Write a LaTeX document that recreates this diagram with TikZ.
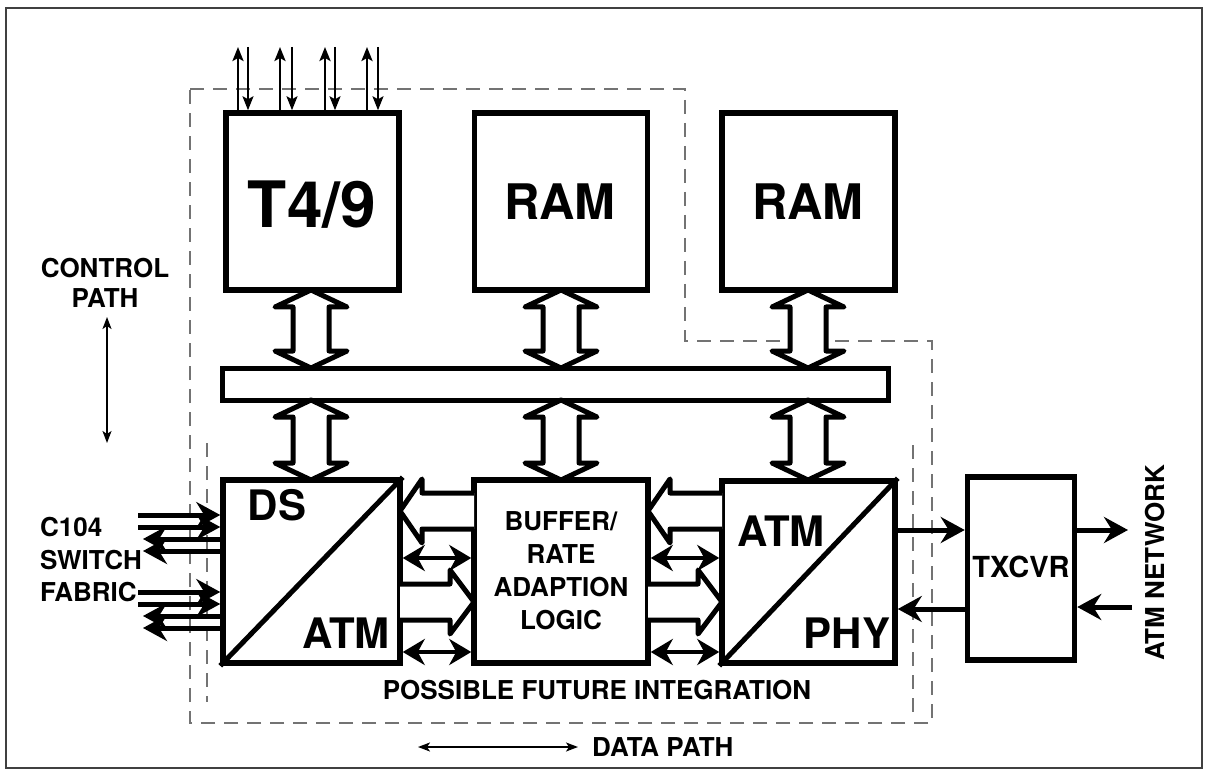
\documentclass[tikz,border=0pt]{standalone}
\usepackage{fontspec}
\setmainfont{TeX Gyre Heros}
\usetikzlibrary{arrows.meta,calc}
\newcommand\vhollow[3]{%
  \draw[hollow] (#1,#2) -- (#1+36,#2+17) -- (#1+18,#2+17) -- (#1+18,#3-17) -- (#1+36,#3-17)
    -- (#1,#3) -- (#1-36,#3-17) -- (#1-18,#3-17) -- (#1-18,#2+17) -- (#1-36,#2+17) -- cycle;}
% left-pointing: tip x, tail x, y
\newcommand\lhollow[3]{%
  \draw[hollow] (#2,#3-18) -- (#1+22,#3-18) -- (#1+22,#3-32) -- (#1,#3) -- (#1+22,#3+32) -- (#1+22,#3+18) -- (#2,#3+18);}
\newcommand\rhollow[3]{%
  \draw[hollow] (#2,#3-18) -- (#1-24,#3-18) -- (#1-24,#3-32) -- (#1,#3) -- (#1-24,#3+32) -- (#1-24,#3+18) -- (#2,#3+18);}
\begin{document}
\begin{tikzpicture}[x=1pt,y=-1pt,
  box/.style={draw, line width=5.5pt, inner sep=0pt},
  hollow/.style={draw, line width=5pt, line join=round, fill=white},
  dsh/.style={draw=black!55, line width=1.3pt, dash pattern=on 14pt off 9pt},
  fat/.style={line width=5pt, -{Stealth[length=24pt,width=26pt,inset=8pt]}},
  fatdbl/.style={line width=4pt, {Stealth[length=22pt,width=26pt,inset=7pt]}-{Stealth[length=22pt,width=26pt,inset=7pt]}},
  pinup/.style={line width=2.6pt, -{Stealth[length=14pt,width=11pt,inset=3pt]}},
  pindn/.style={line width=2pt, -{Stealth[length=14pt,width=11pt,inset=3pt]}},
  legend/.style={line width=1.8pt, {Stealth[length=12pt,width=9pt,inset=3pt]}-{Stealth[length=12pt,width=9pt,inset=3pt]}},
  lbl/.style={font=\bfseries\fontsize{26}{30}\selectfont, inner sep=0pt},
  big/.style={font=\bfseries\fontsize{42}{46}\selectfont, inner sep=0pt}]
\useasboundingbox (0,0) rectangle (1209,775);
\fill[white] (0,0) rectangle (1209,775);
\draw[line width=1.5pt, black!75] (6,8) rectangle (1202,768);

% dashed integration outlines
\draw[dsh] (190,89) -- (685,89) -- (685,341) -- (932,341) -- (932,723) -- (190,723) -- cycle;
\draw[dsh] (207,443) -- (207,702);
\draw[dsh] (913,445) -- (913,720);

% boxes
\node[box, minimum width=173pt, minimum height=177pt] (t49) at (312.5,201.5) {};
\node[box, minimum width=173pt, minimum height=177pt] (ram1) at (561,201.5) {};
\node[box, minimum width=173pt, minimum height=177pt] (ram2) at (808.5,201.5) {};
\node[draw, line width=5pt, inner sep=0pt, minimum width=666pt, minimum height=32pt] (bus) at (555,384) {};
\node[box, minimum width=177pt, minimum height=183pt] (ds) at (311.5,571.5) {};
\node[box, minimum width=174pt, minimum height=183pt] (buf) at (561,571.5) {};
\node[box, minimum width=173pt, minimum height=182pt] (phy) at (808.5,572) {};
\node[box, minimum width=107pt, minimum height=183pt] (tx) at (1021,568.5) {};

% diagonals
\draw[line width=5pt] (ds.south west) -- (ds.north east);
\draw[line width=5pt] (phy.south west) -- (phy.north east);

% texts
\node[font=\bfseries\fontsize{64}{70}\selectfont, inner sep=0pt] at (312,205) {T4/9};
\node[font=\bfseries\fontsize{49}{54}\selectfont, inner sep=0pt] at (560,202) {RAM};
\node[font=\bfseries\fontsize{49}{54}\selectfont, inner sep=0pt] at (808,202) {RAM};
\node[big] at (277,505) {DS};
\node[big] at (346,633) {ATM};
\node[big] at (781,531) {ATM};
\node[big] at (847,633) {PHY};
\node[lbl, align=center, font=\bfseries\fontsize{26}{33}\selectfont] at (561,571) {BUFFER/\\RATE\\ADAPTION\\LOGIC};
\node[lbl, font=\bfseries\fontsize{29}{33}\selectfont] at (1021,567) {TXCVR};
\node[lbl] at (105,268) {CONTROL};
\node[lbl] at (105,298) {PATH};
\node[lbl, anchor=west] at (40,527) {C104};
\node[lbl, anchor=west] at (40,560) {SWITCH};
\node[lbl, anchor=west] at (40,592) {FABRIC};
\node[lbl] at (597,690) {POSSIBLE FUTURE INTEGRATION};
\node[lbl, anchor=west] (dp) at (592,747) {DATA PATH};
\node[lbl, rotate=90] at (1155,563) {ATM NETWORK};

% legend arrows
\coordinate (cpa) at (107,317);
\coordinate (cpb) at (107,443);
\draw[legend] (cpa) -- (cpb);
\coordinate (dpa) at (418,747);
\draw[legend] (dpa) -- ([xshift=-14pt]dp.west);

% hollow bus arrows
\vhollow{311}{290}{368}
\vhollow{311}{400}{480}
\vhollow{561}{290}{368}
\vhollow{561}{400}{480}
\vhollow{808}{290}{368}
\vhollow{808}{400}{480}

% horizontal hollow arrows
\lhollow{400}{474}{511}
\rhollow{474}{400}{602}
\lhollow{648}{722}{511}
\rhollow{722}{648}{602}

% thin double arrows
\draw[fatdbl] (ds.east |- 0,558) -- (buf.west |- 0,558);
\draw[fatdbl] (ds.east |- 0,652) -- (buf.west |- 0,652);
\draw[fatdbl] (buf.east |- 0,558) -- (phy.west |- 0,558);
\draw[fatdbl] (buf.east |- 0,652) -- (phy.west |- 0,652);

% T4/9 pins
\foreach \u/\d in {238/248, 280/292, 325/335, 367/378}{
  \draw[pinup] (t49.north -| \u,0) -- (\u,47);
  \draw[pindn] (\d,47) -- (t49.north -| \d,0);
}

% switch fabric arrows
\foreach \y in {515,527,592,604}{
  \draw[fat] (138,\y) -- (ds.west |- 0,\y);
}
\foreach \y in {539,551,616,628}{
  \draw[fat] (ds.west |- 0,\y) -- (143,\y);
}

% PHY <-> TXCVR
\draw[fat] (phy.east |- 0,530) -- (tx.west |- 0,530);
\draw[fat] (tx.west |- 0,609) -- (phy.east |- 0,609);
\coordinate (netout) at (1128,530);
\coordinate (netin) at (1132,607);
\draw[fat] (tx.east |- netout) -- (netout);
\draw[fat] (netin) -- (tx.east |- netin);
\end{tikzpicture}
\end{document}
